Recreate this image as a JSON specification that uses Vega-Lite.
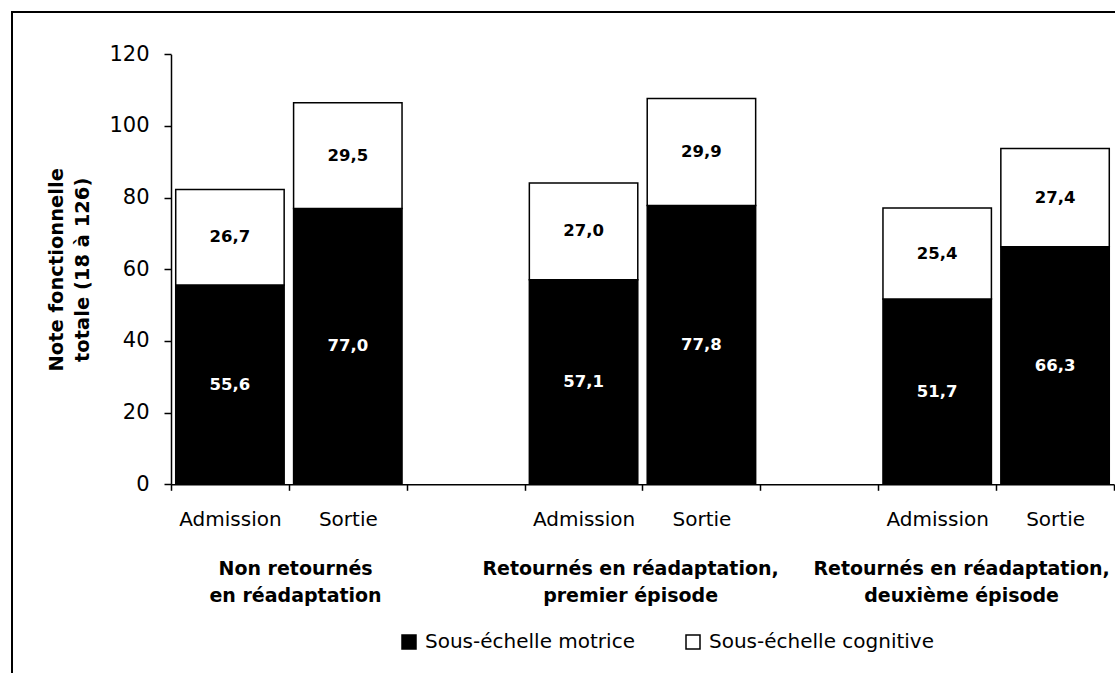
{
  "$schema": "https://vega.github.io/schema/vega-lite/v6.json",
  "width": 1115,
  "height": 673,
  "autosize": {"type": "none"},
  "padding": {"left": 12, "top": 12, "right": 0, "bottom": 0},
  "background": "white",
  "config": {
    "locale": {"number": {"decimal": ",", "thousands": " ", "grouping": [3], "currency": ["", " €"]}},
    "font": "DejaVu Sans",
    "view": {"stroke": "black", "strokeWidth": 2},
    "axis": {
      "grid": false,
      "domainColor": "black",
      "domainWidth": 1.5,
      "tickColor": "black",
      "tickWidth": 1.5,
      "labelColor": "black",
      "titleColor": "black",
      "labelFont": "DejaVu Sans",
      "titleFont": "DejaVu Sans"
    }
  },
  "data": {
    "values": [
      {"slot": "A1", "part": "Sous-échelle motrice", "ord": 1, "value": 55.6},
      {"slot": "A1", "part": "Sous-échelle cognitive", "ord": 2, "value": 26.7},
      {"slot": "S1", "part": "Sous-échelle motrice", "ord": 1, "value": 77.0},
      {"slot": "S1", "part": "Sous-échelle cognitive", "ord": 2, "value": 29.5},
      {"slot": "A2", "part": "Sous-échelle motrice", "ord": 1, "value": 57.1},
      {"slot": "A2", "part": "Sous-échelle cognitive", "ord": 2, "value": 27.0},
      {"slot": "S2", "part": "Sous-échelle motrice", "ord": 1, "value": 77.8},
      {"slot": "S2", "part": "Sous-échelle cognitive", "ord": 2, "value": 29.9},
      {"slot": "A3", "part": "Sous-échelle motrice", "ord": 1, "value": 51.7},
      {"slot": "A3", "part": "Sous-échelle cognitive", "ord": 2, "value": 25.4},
      {"slot": "S3", "part": "Sous-échelle motrice", "ord": 1, "value": 66.3},
      {"slot": "S3", "part": "Sous-échelle cognitive", "ord": 2, "value": 27.4}
    ]
  },
  "layer": [
    {
      "mark": {"type": "bar", "stroke": "black", "strokeWidth": 1.5},
      "encoding": {
        "x": {
          "field": "slot",
          "type": "nominal",
          "scale": {
            "domain": ["A1", "S1", "g1", "A2", "S2", "g2", "A3", "S3"],
            "range": [159, 1102],
            "paddingInner": 0.08,
            "paddingOuter": 0.04
          },
          "axis": {
            "orient": "bottom",
            "offset": -200.7,
            "title": null,
            "labelAngle": 0,
            "labelExpr": "datum.value[0] === 'A' ? 'Admission' : datum.value[0] === 'S' ? 'Sortie' : ''",
            "tickOffset": -58.94,
            "labelOffset": 58.94,
            "tickSize": 6,
            "labelPadding": 19,
            "labelFontSize": 20,
            "labelBaseline": "top",
            "labelOverlap": false
          }
        },
        "y": {
          "field": "value",
          "type": "quantitative",
          "stack": "zero",
          "scale": {"domain": [0, 120], "range": [472.3, 42.3], "nice": false},
          "axis": {
            "values": [0, 20, 40, 60, 80, 100, 120],
            "offset": -159,
            "tickSize": 7,
            "labelPadding": 15,
            "labelFontSize": 21,
            "title": ["Note fonctionnelle", "totale (18 à 126)"],
            "titleFontSize": 19.5,
            "titleFontWeight": "bold",
            "titleLineHeight": 26,
            "titlePadding": 16
          }
        },
        "color": {
          "field": "part",
          "type": "nominal",
          "scale": {
            "domain": ["Sous-échelle motrice", "Sous-échelle cognitive"],
            "range": ["black", "white"]
          },
          "legend": {
            "orient": "none",
            "legendX": 387,
            "legendY": 620,
            "direction": "horizontal",
            "title": null,
            "padding": 0,
            "symbolType": "square",
            "symbolSize": 196,
            "symbolStrokeColor": "black",
            "symbolStrokeWidth": 1.5,
            "labelFont": "DejaVu Sans",
            "labelFontSize": 20,
            "labelColor": "black",
            "labelOffset": 6,
            "labelLimit": 400,
            "columnPadding": 48
          }
        },
        "order": {"field": "ord", "type": "quantitative"}
      }
    },
    {
      "mark": {"type": "text", "font": "DejaVu Sans", "fontWeight": "bold", "fontSize": 16.5, "baseline": "middle"},
      "encoding": {
        "x": {
          "field": "slot",
          "type": "nominal",
          "scale": {
            "domain": ["A1", "S1", "g1", "A2", "S2", "g2", "A3", "S3"],
            "range": [159, 1102],
            "paddingInner": 0.08,
            "paddingOuter": 0.04
          },
          "axis": {
            "orient": "bottom",
            "offset": -200.7,
            "title": null,
            "domain": false,
            "labelAngle": 0,
            "labelExpr": "datum.value === 'S1' ? ['Non retournés', 'en réadaptation'] : datum.value === 'S2' ? ['Retournés en réadaptation,', 'premier épisode'] : datum.value === 'S3' ? ['Retournés en réadaptation,', 'deuxième épisode'] : ''",
            "tickOffset": 58.94,
            "tickSize": 6,
            "tickOpacity": {"condition": {"test": "datum.value === 'S3'", "value": 1}, "value": 0},
            "labelOffset": {
              "condition": [
                {"test": "datum.value === 'S1'", "value": -111.7},
                {"test": "datum.value === 'S2'", "value": -130.3}
              ],
              "value": -152.9
            },
            "labelPadding": 69,
            "labelFontSize": 19,
            "labelFontWeight": "bold",
            "labelLineHeight": 27,
            "labelBaseline": "top",
            "labelOverlap": false,
            "labelLimit": 0
          }
        },
        "y": {
          "field": "value",
          "type": "quantitative",
          "stack": "zero",
          "bandPosition": 0.5,
          "title": ["Note fonctionnelle", "totale (18 à 126)"]
        },
        "text": {"field": "value", "type": "quantitative", "format": ".1f"},
        "color": {
          "condition": {"test": "datum.part === 'Sous-échelle motrice'", "value": "white"},
          "value": "black"
        },
        "order": {"field": "ord", "type": "quantitative"}
      }
    }
  ],
  "resolve": {"scale": {"x": "independent"}}
}
